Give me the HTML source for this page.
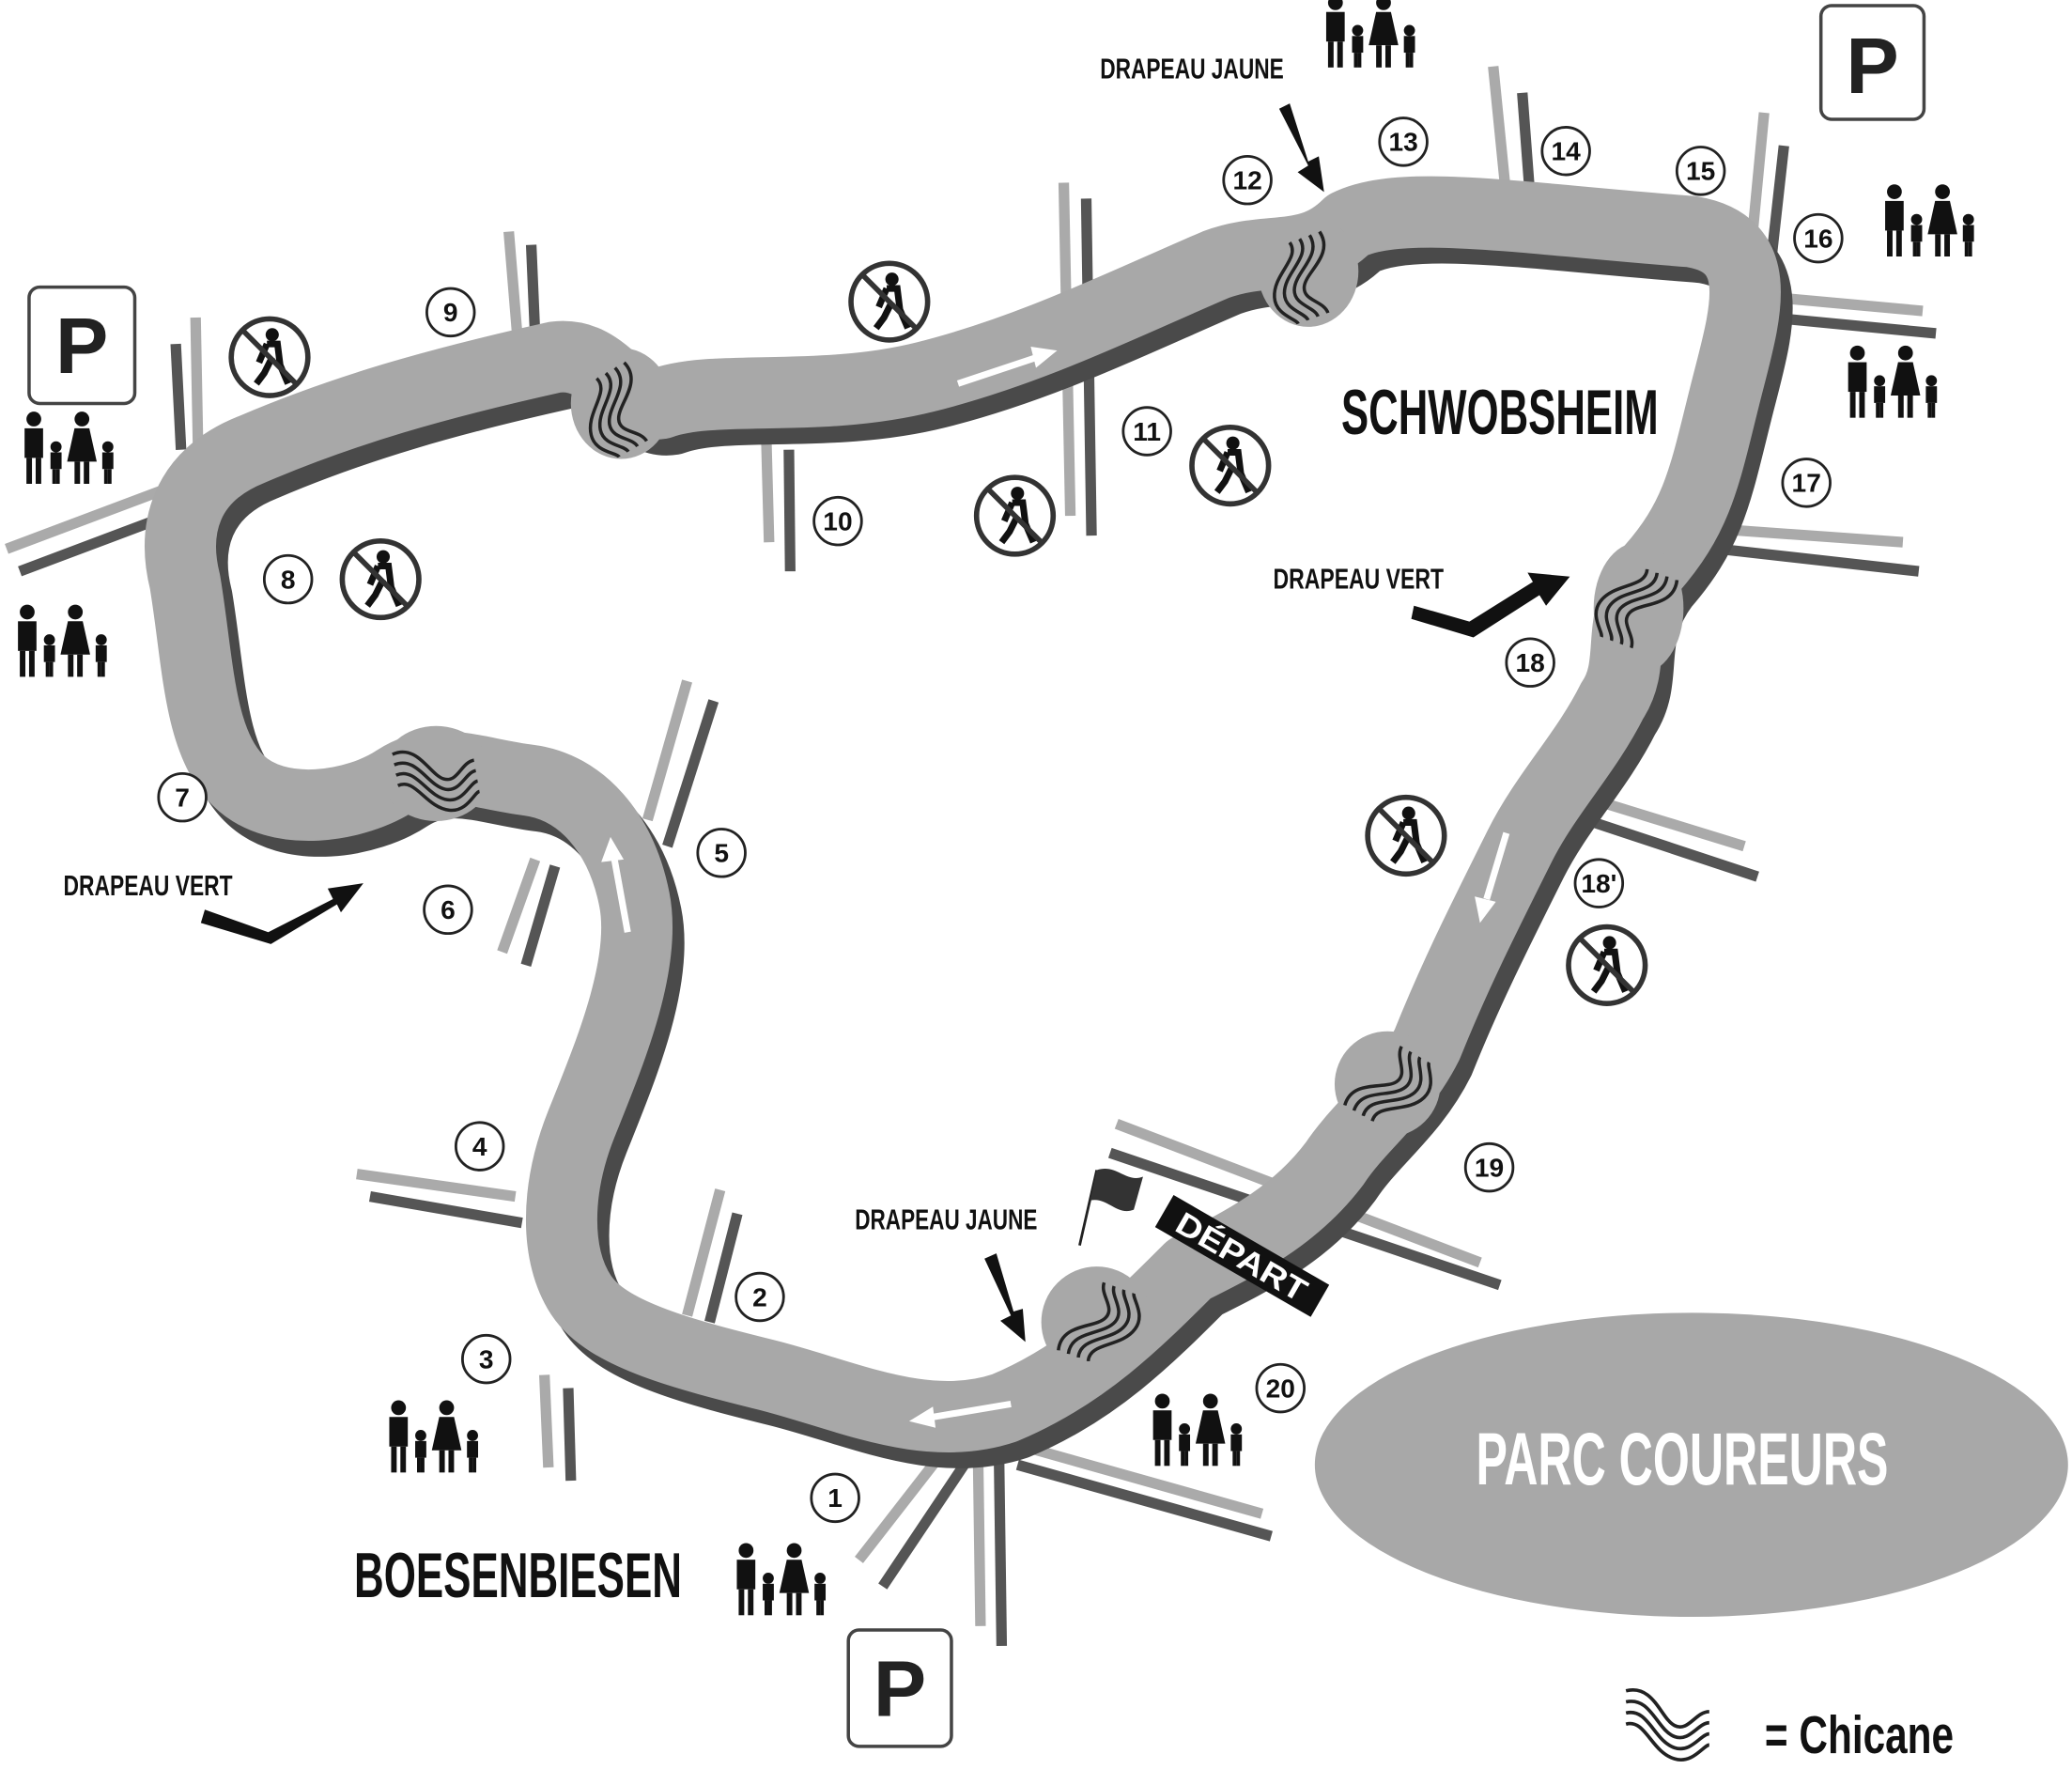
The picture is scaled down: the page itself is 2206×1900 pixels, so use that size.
<!DOCTYPE html>
<html><head><meta charset="utf-8"><style>
html,body{margin:0;padding:0;background:#fff;}
svg{display:block;}
text{font-family:"Liberation Sans",sans-serif;font-weight:bold;}
</style></head><body>
<svg width="2206" height="1900" viewBox="0 0 1568 1350" xmlns="http://www.w3.org/2000/svg">
<defs>
<g id="fam">
 <circle cx="-26" cy="-18" r="4"/><rect x="-31" y="-13" width="10" height="16"/><rect x="-30" y="3" width="3" height="14"/><rect x="-25" y="3" width="3" height="14"/>
 <circle cx="-14" cy="-3" r="3"/><rect x="-17" y="0" width="6" height="9"/><rect x="-16" y="9" width="2" height="8"/><rect x="-14" y="9" width="2" height="8"/>
 <circle cx="0" cy="-18" r="4"/><polygon points="-4,-13 4,-13 8,5 -8,5"/><rect x="-4" y="5" width="3" height="12"/><rect x="1" y="5" width="3" height="12"/>
 <circle cx="14" cy="-3" r="3"/><rect x="11" y="0" width="6" height="9"/><rect x="12" y="9" width="2" height="8"/><rect x="14" y="9" width="2" height="8"/>
</g>
<g id="nop">
 <circle r="29" fill="#fff" stroke="#333" stroke-width="4"/>
 <circle cx="2" cy="-17" r="5" fill="#111"/>
 <path d="M-2,-10 L6,-10 L8,6 L14,20 M2,0 L-4,12 L-10,20 M-2,-10 L-8,4" stroke="#111" stroke-width="5" fill="none"/>
 <line x1="-20" y1="-20" x2="20" y2="20" stroke="#333" stroke-width="4"/>
</g>
<g id="chic" fill="none" stroke="#222" stroke-width="2.5">
 <path d="M-30,-20 C-10,-25 -5,0 5,5 C15,10 20,-5 30,-5"/>
 <path d="M-30,-12 C-12,-16 -8,8 5,13 C16,17 22,3 30,3"/>
 <path d="M-30,-4 C-14,-8 -10,16 5,21 C17,25 24,11 30,11"/>
 <path d="M-30,4 C-16,0 -12,24 5,29 C18,33 26,19 30,19"/>
</g>
</defs>

<!-- cross roads -->
<g stroke-linecap="butt" fill="none" stroke-width="8">
 <g stroke="#aaa">
  <line x1="385" y1="175" x2="392" y2="260"/><line x1="148" y1="240" x2="150" y2="345"/><line x1="5" y1="415" x2="130" y2="368"/>
  <line x1="580" y1="335" x2="582" y2="410"/><line x1="805" y1="138" x2="810" y2="390"/><line x1="1130" y1="50" x2="1140" y2="150"/>
  <line x1="1335" y1="85" x2="1325" y2="190"/><line x1="1345" y1="225" x2="1455" y2="235"/><line x1="1300" y1="400" x2="1440" y2="410"/>
  <line x1="1190" y1="600" x2="1320" y2="640"/><line x1="520" y1="515" x2="490" y2="620"/><line x1="405" y1="650" x2="380" y2="720"/>
  <line x1="270" y1="888" x2="390" y2="905"/><line x1="412" y1="1040" x2="415" y2="1110"/><line x1="545" y1="900" x2="520" y2="995"/>
  <line x1="845" y1="850" x2="1120" y2="955"/><line x1="720" y1="1090" x2="650" y2="1180"/><line x1="740" y1="1090" x2="742" y2="1230"/>
  <line x1="760" y1="1090" x2="955" y2="1145"/>
 </g>
 <g stroke="#555">
  <line x1="402" y1="185" x2="405" y2="255"/><line x1="133" y1="260" x2="137" y2="340"/><line x1="15" y1="432" x2="140" y2="385"/>
  <line x1="597" y1="340" x2="598" y2="432"/><line x1="822" y1="150" x2="826" y2="405"/><line x1="1152" y1="70" x2="1158" y2="150"/>
  <line x1="1350" y1="110" x2="1340" y2="200"/><line x1="1340" y1="240" x2="1465" y2="252"/><line x1="1300" y1="415" x2="1452" y2="432"/>
  <line x1="1185" y1="615" x2="1330" y2="663"/><line x1="540" y1="530" x2="505" y2="640"/><line x1="420" y1="655" x2="398" y2="730"/>
  <line x1="280" y1="905" x2="395" y2="925"/><line x1="430" y1="1050" x2="432" y2="1120"/><line x1="558" y1="918" x2="537" y2="1000"/>
  <line x1="840" y1="872" x2="1135" y2="972"/><line x1="735" y1="1100" x2="668" y2="1200"/><line x1="756" y1="1100" x2="758" y2="1245"/>
  <line x1="770" y1="1108" x2="962" y2="1162"/>
 </g>
</g>

<!-- track -->
<path id="trk" d="M900,960 C860,1000 820,1040 760,1065 C700,1085 640,1055 580,1040 C520,1025 460,1010 440,980 C420,950 420,900 440,850 C460,800 490,730 480,680 C470,630 440,595 400,590 C360,585 330,570 300,590 C270,610 210,620 180,590 C150,560 150,500 140,440 C130,400 140,360 190,340 C260,310 330,290 420,270 C460,265 470,310 500,305 C540,290 620,305 700,285 C780,265 850,230 920,200 C960,185 990,200 1020,170 C1060,150 1150,165 1280,175 C1340,185 1320,240 1305,300 C1290,360 1285,390 1250,430 C1220,470 1240,500 1220,530 C1200,570 1170,600 1150,640 C1120,700 1100,740 1080,790 C1060,830 1030,850 1010,880 C980,920 940,940 900,960 Z" fill="none"/>
<use href="#trk" transform="translate(9,12)" stroke="#4a4a4a" stroke-width="54" stroke-linejoin="round"/>
<use href="#trk" stroke="#a8a8a8" stroke-width="54" stroke-linejoin="round"/>
<!-- chicane bulges -->
<g fill="#a8a8a8">
 <ellipse cx="470" cy="305" rx="38" ry="42"/><ellipse cx="990" cy="205" rx="38" ry="42"/>
 <ellipse cx="330" cy="585" rx="42" ry="36"/><ellipse cx="1240" cy="460" rx="34" ry="50"/>
 <ellipse cx="1050" cy="820" rx="40" ry="40"/><ellipse cx="830" cy="1000" rx="42" ry="42"/>
</g>

<!-- chicanes -->
<use href="#chic" transform="translate(470,310) rotate(60)"/>
<use href="#chic" transform="translate(990,210) rotate(70)"/>
<use href="#chic" transform="translate(330,585) rotate(-10)"/>
<use href="#chic" transform="translate(1240,460) rotate(110)"/>
<use href="#chic" transform="translate(1050,820) rotate(-60)"/>
<use href="#chic" transform="translate(830,1000) rotate(-70)"/>
<use href="#chic" transform="translate(1262,1300) scale(1.05)"/>

<!-- white arrows -->
<g stroke="#fff" stroke-width="5" fill="#fff">
 <line x1="725" y1="290" x2="785" y2="270"/><polygon points="800,265 780,262 784,278" stroke="none"/>
 <line x1="475" y1="705" x2="465" y2="650"/><polygon points="462,633 455,652 472,650" stroke="none"/>
 <line x1="1140" y1="630" x2="1125" y2="680"/><polygon points="1120,698 1116,678 1132,682" stroke="none"/>
 <line x1="765" y1="1062" x2="705" y2="1072"/><polygon points="688,1075 706,1064 708,1080" stroke="none"/>
</g>

<!-- black arrows -->
<g fill="#111">
 <path d="M968,82 L990,125 L982,130 L1002,145 L998,118 L990,122 L976,78Z"/>
 <path d="M1070,458 L1112,470 L1160,440 L1156,433 L1188,436 L1170,458 L1165,450 L1115,482 L1068,468Z"/>
 <path d="M155,688 L203,705 L252,680 L248,672 L275,668 L258,690 L255,684 L205,714 L152,698Z"/>
 <path d="M745,952 L765,995 L757,999 L776,1015 L774,990 L767,992 L754,948Z"/>
</g>

<!-- checkered flag + depart -->
<line x1="817" y1="942" x2="830" y2="885" stroke="#222" stroke-width="2"/>
<path d="M830,885 C845,880 852,895 865,890 L858,915 C845,920 838,905 825,908Z" fill="#333"/>
<g transform="translate(940,950) rotate(30)"><rect x="-68" y="-14" width="136" height="28" fill="#111"/><text x="0" y="9" fill="#fff" font-size="24" text-anchor="middle" textLength="110" lengthAdjust="spacingAndGlyphs">DÉPART</text></g>

<!-- parc -->
<ellipse cx="1280" cy="1108" rx="285" ry="115" fill="#a8a8a8"/>
<text x="1273" y="1108" fill="#fff" font-size="56" text-anchor="middle" dominant-baseline="middle" textLength="312" lengthAdjust="spacingAndGlyphs">PARC COUREURS</text>

<!-- P boxes -->
<g fill="#fff" stroke="#444" stroke-width="2.5">
 <rect x="22" y="217" width="80" height="88" rx="8"/><rect x="1378" y="4" width="78" height="86" rx="8"/><rect x="642" y="1233" width="78" height="88" rx="8"/>
</g>
<g font-size="60" fill="#222" text-anchor="middle">
 <text x="62" y="282">P</text>
 <text x="1417" y="70">P</text>
 <text x="681" y="1298">P</text>
</g>

<!-- families -->
<g fill="#111">
 <use href="#fam" transform="translate(62,342) scale(1.4)"/><use href="#fam" transform="translate(57,488) scale(1.4)"/>
 <use href="#fam" transform="translate(1047,27) scale(1.4)"/><use href="#fam" transform="translate(1470,170) scale(1.4)"/>
 <use href="#fam" transform="translate(1442,292) scale(1.4)"/><use href="#fam" transform="translate(338,1090) scale(1.4)"/>
 <use href="#fam" transform="translate(601,1198) scale(1.4)"/><use href="#fam" transform="translate(916,1085) scale(1.4)"/>
</g>

<!-- no pedestrians -->
<use href="#nop" transform="translate(204,270)"/><use href="#nop" transform="translate(288,438)"/>
<use href="#nop" transform="translate(673,228)"/><use href="#nop" transform="translate(768,390)"/>
<use href="#nop" transform="translate(931,352)"/><use href="#nop" transform="translate(1064,632)"/>
<use href="#nop" transform="translate(1216,730)"/>

<!-- numbers -->
<g font-size="20" text-anchor="middle" fill="#111">
<g fill="#fff" stroke="#222" stroke-width="2">
 <circle cx="632" cy="1133" r="18"/><circle cx="575" cy="981" r="18"/><circle cx="368" cy="1028" r="18"/><circle cx="363" cy="867" r="18"/>
 <circle cx="546" cy="645" r="18"/><circle cx="339" cy="688" r="18"/><circle cx="138" cy="603" r="18"/><circle cx="218" cy="438" r="18"/>
 <circle cx="341" cy="236" r="18"/><circle cx="634" cy="394" r="18"/><circle cx="868" cy="326" r="18"/><circle cx="944" cy="136" r="18"/>
 <circle cx="1062" cy="107" r="18"/><circle cx="1185" cy="114" r="18"/><circle cx="1287" cy="129" r="18"/><circle cx="1376" cy="180" r="18"/>
 <circle cx="1367" cy="365" r="18"/><circle cx="1158" cy="501" r="18"/><circle cx="1210" cy="668" r="18"/><circle cx="1127" cy="883" r="18"/>
 <circle cx="969" cy="1050" r="18"/>
</g>
 <text x="632" y="1140">1</text><text x="575" y="988">2</text><text x="368" y="1035">3</text><text x="363" y="874">4</text>
 <text x="546" y="652">5</text><text x="339" y="695">6</text><text x="138" y="610">7</text><text x="218" y="445">8</text>
 <text x="341" y="243">9</text><text x="634" y="401">10</text><text x="868" y="333">11</text><text x="944" y="143">12</text>
 <text x="1062" y="114">13</text><text x="1185" y="121">14</text><text x="1287" y="136">15</text><text x="1376" y="187">16</text>
 <text x="1367" y="372">17</text><text x="1158" y="508">18</text><text x="1210" y="675">18'</text><text x="1127" y="890">19</text>
 <text x="969" y="1057">20</text>
</g>

<!-- labels -->
<g fill="#111" text-anchor="middle">
 <text x="902" y="59" font-size="22" textLength="139" lengthAdjust="spacingAndGlyphs">DRAPEAU JAUNE</text>
 <text x="1028" y="445" font-size="22" textLength="129" lengthAdjust="spacingAndGlyphs">DRAPEAU VERT</text>
 <text x="112" y="677" font-size="22" textLength="128" lengthAdjust="spacingAndGlyphs">DRAPEAU VERT</text>
 <text x="716" y="930" font-size="22" textLength="138" lengthAdjust="spacingAndGlyphs">DRAPEAU JAUNE</text>
 <text x="1135" y="328" font-size="48" textLength="240" lengthAdjust="spacingAndGlyphs">SCHWOBSHEIM</text>
 <text x="392" y="1208" font-size="48" textLength="248" lengthAdjust="spacingAndGlyphs">BOESENBIESEN</text>
 <text x="1407" y="1326" font-size="40" textLength="143" lengthAdjust="spacingAndGlyphs">= Chicane</text>
</g>
</svg>
</body></html>
